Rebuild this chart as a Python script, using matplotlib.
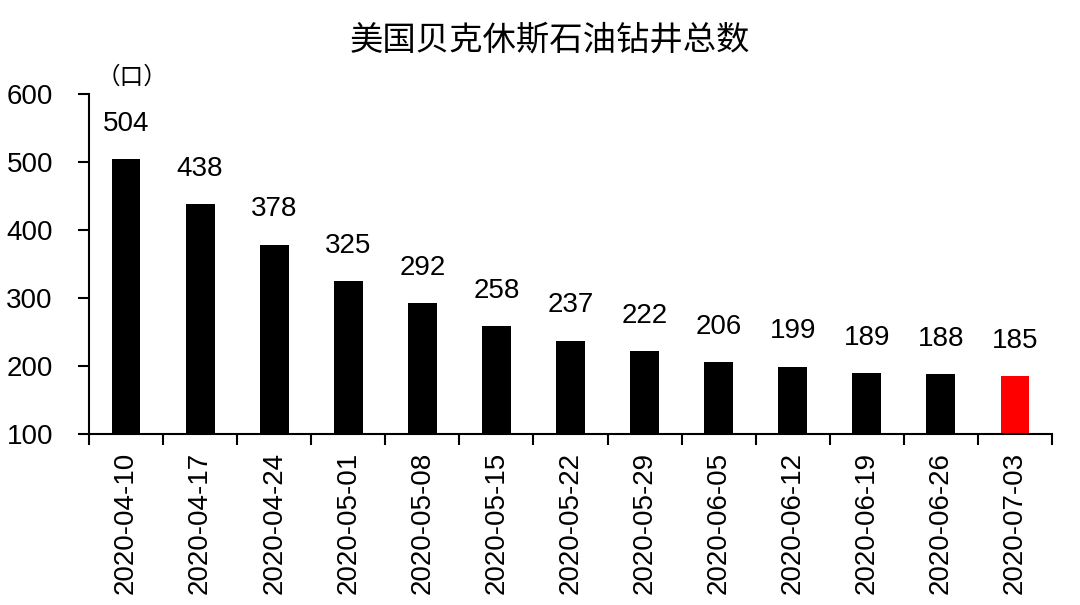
import matplotlib
matplotlib.use("Agg")
import matplotlib.pyplot as plt
import numpy as np

dates = ["2020-04-10", "2020-04-17", "2020-04-24", "2020-05-01", "2020-05-08",
         "2020-05-15", "2020-05-22", "2020-05-29", "2020-06-05", "2020-06-12",
         "2020-06-19", "2020-06-26", "2020-07-03"]
rig_counts = [504, 438, 378, 325, 292, 258, 237, 222, 206, 199, 189, 188, 185]
title = "美国贝克休斯石油钻井总数"
unit_label = "（口）"
y_ticks = [100, 200, 300, 400, 500, 600]

plt.rcParams['font.family'] = ['Liberation Sans', 'DejaVu Sans']

fig = plt.figure(figsize=(10.8, 6.05), dpi=100)
ax = fig.add_axes([89/1080, 1-434/605, (1052-89)/1080, (434-93.5)/605])

x = np.arange(len(dates))
colors = ['black'] * (len(dates) - 1) + ['#FF0000']
bars = ax.bar(x, rig_counts, width=0.39, color=colors, bottom=0)
for xi, v in zip(x, rig_counts):
    ax.annotate(str(v), (xi, v), xytext=(0, 16), textcoords='offset points',
                ha='center', va='bottom', fontsize=20, color='black')

ax.set_xlim(-0.5, len(dates) - 0.5)
ax.set_ylim(100, 600)
ax.set_yticks(y_ticks)
ax.set_yticklabels([str(t) for t in y_ticks], fontsize=20)
ax.set_xticks(x)
ax.set_xticklabels(dates, rotation=90, fontsize=20)
ax.set_xticks(np.arange(-0.5, len(dates)), minor=True)
ax.tick_params(axis='x', which='major', length=0, pad=13)
ax.tick_params(axis='x', which='minor', length=8, width=1.5, direction='out')
ax.tick_params(axis='y', which='major', length=8, width=1.5, direction='out', pad=18)
for s in ['top', 'right']:
    ax.spines[s].set_visible(False)
for s in ['left', 'bottom']:
    ax.spines[s].set_linewidth(1.5)
    ax.spines[s].set_color('black')

fig.text(550/1080, 1-40/605, title, ha='center', va='center', fontsize=24,
         family=['Noto Sans CJK SC', 'DejaVu Sans'], fontweight='light')
fig.text(132/1080, 1-77/605, unit_label, ha='center', va='center', fontsize=17,
         family=['Noto Sans CJK SC', 'DejaVu Sans'], fontweight='light')

fig.savefig("out.png", dpi=100)
